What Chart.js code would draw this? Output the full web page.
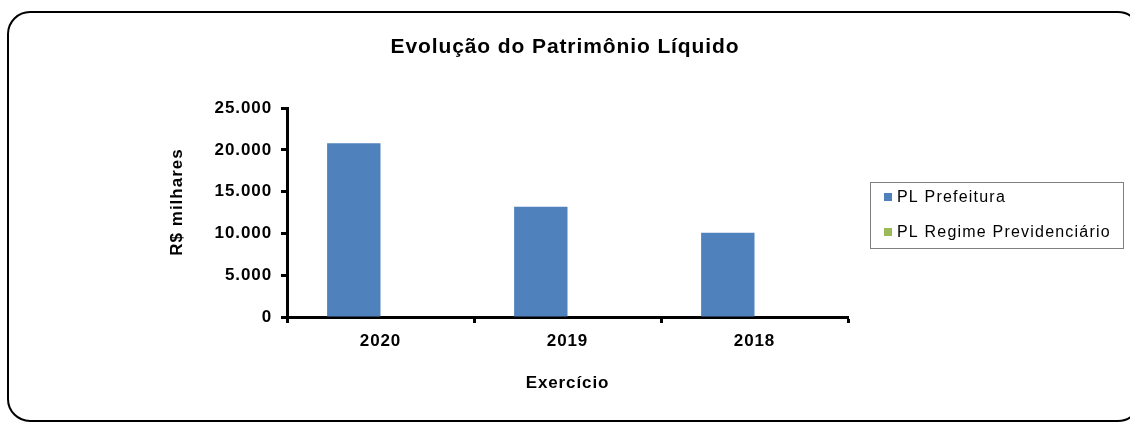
<!DOCTYPE html>
<html>
<head>
<meta charset="utf-8">
<script src="https://cdn.jsdelivr.net/npm/chart.js@4"></script>
<style>
  html, body { margin: 0; padding: 0; background: #ffffff; }
  #wrap { width: 1130px; height: 422px; }
</style>
</head>
<body>
<div id="wrap"><canvas id="c" width="1130" height="422"></canvas></div>
<script>
const categories = ['2020', '2019', '2018'];
const plPrefeitura = [20800, 13200, 10100];
const plRegimePrevidenciario = [0, 0, 0];
const seriesLabels = ['PL Prefeitura', 'PL Regime Previdenciário'];
const seriesColors = ['#4F81BD', '#9BBB59'];
const yTicks = [0, 5000, 10000, 15000, 20000, 25000];
const chartTitle = 'Evolução do Patrimônio Líquido';
const yTitle = 'R$ milhares';
const xTitle = 'Exercício';

const FONT = "'Liberation Sans', Arial, sans-serif";
const SPACING = '0.9px';

const spacingPlugin = {
  id: 'spacing',
  beforeLayout(chart) { chart.ctx.letterSpacing = SPACING; },
  beforeDraw(chart) { chart.ctx.letterSpacing = SPACING; }
};

const framePlugin = {
  id: 'frame',
  beforeDraw(chart) {
    const ctx = chart.ctx;
    ctx.save();
    ctx.fillStyle = '#ffffff';
    ctx.fillRect(0, 0, chart.width, chart.height);
    ctx.beginPath();
    ctx.roundRect(8, 12, 1132, 409, 22);
    ctx.lineWidth = 2;
    ctx.strokeStyle = '#000000';
    ctx.stroke();
    ctx.restore();
  }
};

const yTitlePlugin = {
  id: 'yTitle',
  afterDraw(chart) {
    const ctx = chart.ctx;
    ctx.save();
    ctx.letterSpacing = '1px';
    ctx.translate(177, 202);
    ctx.rotate(-Math.PI / 2);
    ctx.font = 'bold 17px ' + FONT;
    ctx.fillStyle = '#000000';
    ctx.textAlign = 'center';
    ctx.textBaseline = 'middle';
    ctx.fillText(yTitle, 0, 0);
    ctx.restore();
  }
};

const legendPlugin = {
  id: 'customLegend',
  afterDraw(chart) {
    const ctx = chart.ctx;
    ctx.save();
    ctx.letterSpacing = '1.2px';
    ctx.strokeStyle = '#7f7f7f';
    ctx.lineWidth = 1;
    ctx.strokeRect(870.5, 182.5, 253, 66);
    ctx.font = '16px ' + FONT;
    ctx.textBaseline = 'middle';
    ctx.textAlign = 'left';
    chart.data.datasets.forEach((ds, i) => {
      const cy = 197 + i * 35;
      ctx.fillStyle = ds.backgroundColor;
      ctx.fillRect(884, cy - 4, 8, 8);
      ctx.fillStyle = '#000000';
      ctx.fillText(ds.label, 897, cy + 1);
    });
    ctx.restore();
  }
};

new Chart(document.getElementById('c'), {
  type: 'bar',
  data: {
    labels: categories,
    datasets: [
      { label: seriesLabels[0], data: plPrefeitura, backgroundColor: seriesColors[0], borderWidth: 0, yAxisID: 'y' },
      { label: seriesLabels[1], data: plRegimePrevidenciario, backgroundColor: seriesColors[1], borderWidth: 0, yAxisID: 'y' }
    ]
  },
  options: {
    responsive: false,
    animation: false,
    devicePixelRatio: 1,
    categoryPercentage: 0.571,
    barPercentage: 1.0,
    layout: { padding: { left: 0, top: 0, right: 0, bottom: 0 } },
    plugins: {
      legend: { display: false },
      tooltip: { enabled: false },
      title: {
        display: true,
        text: chartTitle,
        color: '#000000',
        font: { family: FONT, size: 21, weight: 'bold', lineHeight: 1.2 },
        padding: { top: 35, bottom: 48 }
      }
    },
    scales: {
      x: {
        afterFit(scale) { scale.height = 105; },
        grid: { display: true, drawOnChartArea: false, drawTicks: true, tickLength: 6, tickWidth: 3, tickColor: '#000000', offset: true },
        border: { display: true, color: '#000000', width: 3 },
        ticks: { color: '#000000', font: { family: FONT, size: 17, weight: 'bold' }, padding: 8, maxRotation: 0 },
        title: {
          display: true, text: xTitle, color: '#000000',
          font: { family: FONT, size: 17, weight: 'bold', lineHeight: 1.2 },
          padding: { top: 0, bottom: 28 }
        }
      },
      y: {
        position: 'left',
        min: 0,
        max: 25000,
        afterFit(scale) { scale.width = 287; },
        afterBuildTicks(scale) { scale.ticks = yTicks.map(v => ({ value: v })); },
        grid: { display: true, drawOnChartArea: false, drawTicks: true, tickLength: 6, tickWidth: 3, tickColor: '#000000' },
        border: { display: true, color: '#000000', width: 3 },
        ticks: {
          color: '#000000',
          font: { family: FONT, size: 17, weight: 'bold' },
          padding: 9,
          callback: (v) => Number(v).toLocaleString('pt-BR')
        },
        title: { display: false }
      },
      yRight: {
        position: 'right',
        display: true,
        min: 0,
        max: 25000,
        afterFit(scale) { scale.width = 282; },
        grid: { display: false, drawTicks: false },
        border: { display: false },
        ticks: { display: false },
        title: { display: false }
      }
    }
  },
  plugins: [spacingPlugin, framePlugin, yTitlePlugin, legendPlugin]
});
</script>
</body>
</html>
